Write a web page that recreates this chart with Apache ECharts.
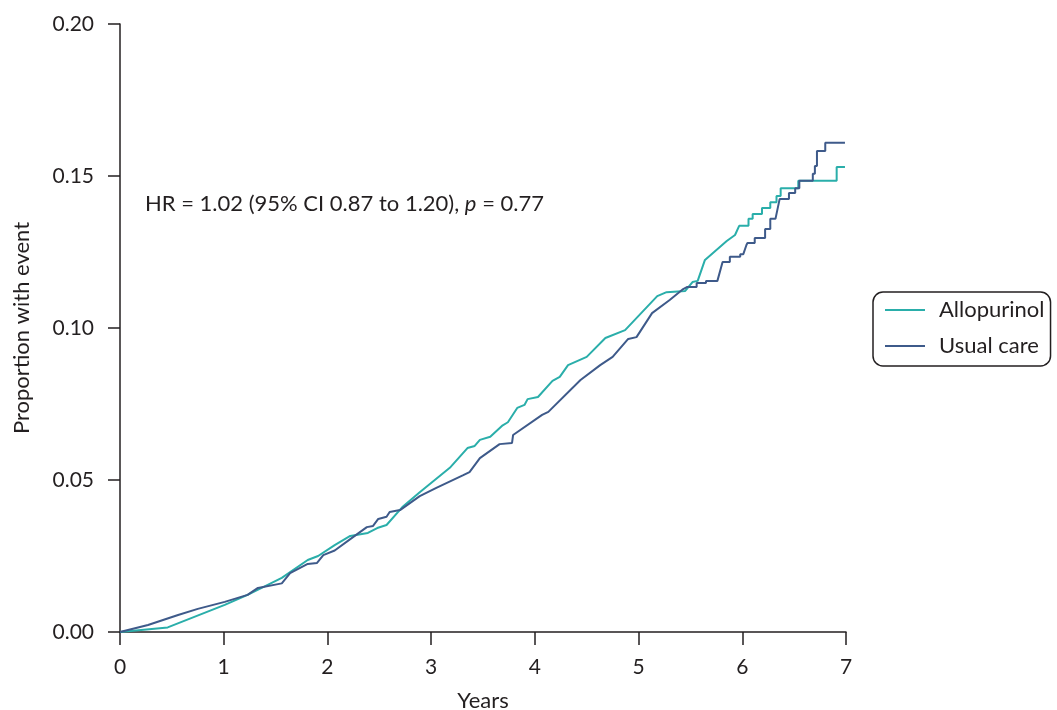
<!DOCTYPE html>
<html><head><meta charset="utf-8">
<script src="https://cdn.jsdelivr.net/npm/echarts@6/dist/echarts.min.js"></script>
<style>html,body{margin:0;padding:0;background:#fff}#c{width:1057px;height:710px}</style>
</head><body><div id="c"></div>
<script>
const seriesNames = ['Allopurinol', 'Usual care'];
const xTicks = [0, 1, 2, 3, 4, 5, 6, 7];
const yTicks = [0, 0.05, 0.10, 0.15, 0.20];
const allopurinol = [
  [0,0],[0.46,0.0015],[1.01,0.0089],[1.23,0.0122],[1.56,0.0178],[1.81,0.0237],[1.91,0.025],[2.07,0.0286],
  [2.22,0.0316],[2.39,0.0326],[2.48,0.0342],[2.57,0.0352],[2.72,0.041],[2.89,0.046],[3.18,0.054],
  [3.35,0.0605],[3.42,0.0612],[3.47,0.0632],[3.57,0.0642],[3.69,0.068],[3.74,0.069],[3.83,0.0737],
  [3.9,0.0747],[3.93,0.0766],[4.03,0.0773],[4.17,0.0826],[4.24,0.0839],[4.32,0.0878],[4.50,0.0905],
  [4.68,0.0967],[4.87,0.0993],[5.18,0.1105],[5.27,0.1118],[5.45,0.1122],[5.52,0.1151],[5.57,0.1155],
  [5.64,0.1224],[5.85,0.1286],[5.93,0.1306],[5.97,0.1336],[6.06,0.1336],[6.06,0.1359],[6.10,0.1359],
  [6.10,0.1375],[6.19,0.1375],[6.19,0.1395],[6.27,0.1395],[6.27,0.1414],[6.33,0.1414],[6.33,0.1434],
  [6.37,0.1434],[6.37,0.146],[6.54,0.146],[6.54,0.1484],[6.91,0.1484],[6.91,0.153],[6.99,0.153]
];
const usualCare = [
  [0,0],[0.27,0.0023],[0.56,0.0056],[0.75,0.0076],[1.01,0.0099],[1.23,0.0122],[1.33,0.0145],[1.56,0.016],
  [1.64,0.0194],[1.81,0.0224],[1.9,0.0227],[1.96,0.0253],[2.07,0.0268],[2.25,0.0313],[2.38,0.0345],
  [2.44,0.0349],[2.49,0.0372],[2.57,0.0379],[2.60,0.0395],[2.70,0.0401],[2.89,0.0447],[3.05,0.0474],
  [3.31,0.0516],[3.37,0.0526],[3.47,0.0572],[3.66,0.0618],[3.78,0.0622],[3.79,0.0648],[4.07,0.0714],
  [4.13,0.0724],[4.44,0.0829],[4.63,0.0878],[4.75,0.0905],[4.90,0.0964],[4.98,0.097],[5.13,0.1049],
  [5.30,0.1092],[5.43,0.1128],[5.47,0.1135],[5.56,0.1135],[5.56,0.1148],[5.65,0.1148],[5.65,0.1155],
  [5.76,0.1155],[5.81,0.1217],[5.88,0.1217],[5.88,0.1234],[5.98,0.1234],[5.98,0.1243],[6.01,0.1243],
  [6.04,0.1273],[6.05,0.128],[6.12,0.128],[6.12,0.1296],[6.22,0.1296],[6.22,0.1326],[6.27,0.1326],
  [6.27,0.1359],[6.32,0.1359],[6.36,0.1424],[6.45,0.1424],[6.45,0.1444],[6.51,0.1444],[6.51,0.146],
  [6.55,0.146],[6.55,0.1484],[6.68,0.1484],[6.68,0.1507],[6.70,0.1507],[6.70,0.1533],[6.72,0.1533],
  [6.72,0.1582],[6.80,0.1582],[6.80,0.1609],[6.99,0.1609]
];
const colors = ['#2aaeaa', '#3e5a8a'];
const txt = '#231f20';
const F = 'Lato, "Open Sans", sans-serif';
const chart = echarts.init(document.getElementById('c'));
chart.setOption({
  animation: false,
  grid: {left: 120, right: 211, top: 24, bottom: 78, containLabel: false, outerBoundsMode: 'none'},
  xAxis: {
    type: 'value', min: xTicks[0], max: xTicks[xTicks.length-1], interval: 1,
    name: 'Years', nameLocation: 'middle', nameGap: 58,
    nameTextStyle: {fontFamily: F, fontSize: 22, color: txt},
    axisLine: {show: true, onZero: false, lineStyle: {color: txt, width: 1.5}},
    axisTick: {show: true, length: 13, lineStyle: {color: txt, width: 1.5}},
    axisLabel: {fontFamily: F, fontSize: 21, color: txt, margin: 25},
    splitLine: {show: false}
  },
  yAxis: {
    type: 'value', min: yTicks[0], max: yTicks[yTicks.length-1], interval: 0.05,
    name: 'Proportion with event', nameLocation: 'middle', nameGap: 87, nameRotate: 90,
    nameTextStyle: {fontFamily: F, fontSize: 22, color: txt},
    axisLine: {show: true, lineStyle: {color: txt, width: 1.5}},
    axisTick: {show: true, length: 12, lineStyle: {color: txt, width: 1.5}},
    axisLabel: {fontFamily: F, fontSize: 21, color: txt, margin: 26, formatter: v => v.toFixed(2)},
    splitLine: {show: false}
  },
  legend: {
    orient: 'vertical', left: 873, top: 292,
    data: seriesNames,
    icon: 'rect', itemWidth: 40, itemHeight: 2, itemGap: 14,
    padding: [7, 6, 9, 12],
    borderColor: txt, borderWidth: 1.5, borderRadius: 10,
    textStyle: {fontFamily: F, fontSize: 22, color: txt, padding: [0, 0, 0, 9]}
  },
  graphic: [{
    type: 'text', left: 145, top: 193,
    style: {
      text: '{n|HR = 1.02 (95% CI 0.87 to 1.20), }{i|p}{n| = 0.77}',
      rich: {
        n: {fontFamily: F, fontSize: 22, fill: txt},
        i: {fontFamily: F, fontSize: 22, fontStyle: 'italic', fill: txt}
      }
    }
  }],
  series: [
    {name: seriesNames[0], type: 'line', data: allopurinol, symbol: 'none', smooth: false,
     lineStyle: {color: colors[0], width: 2}, itemStyle: {color: colors[0]}},
    {name: seriesNames[1], type: 'line', data: usualCare, symbol: 'none', smooth: false,
     lineStyle: {color: colors[1], width: 2}, itemStyle: {color: colors[1]}}
  ]
});
</script></body></html>
